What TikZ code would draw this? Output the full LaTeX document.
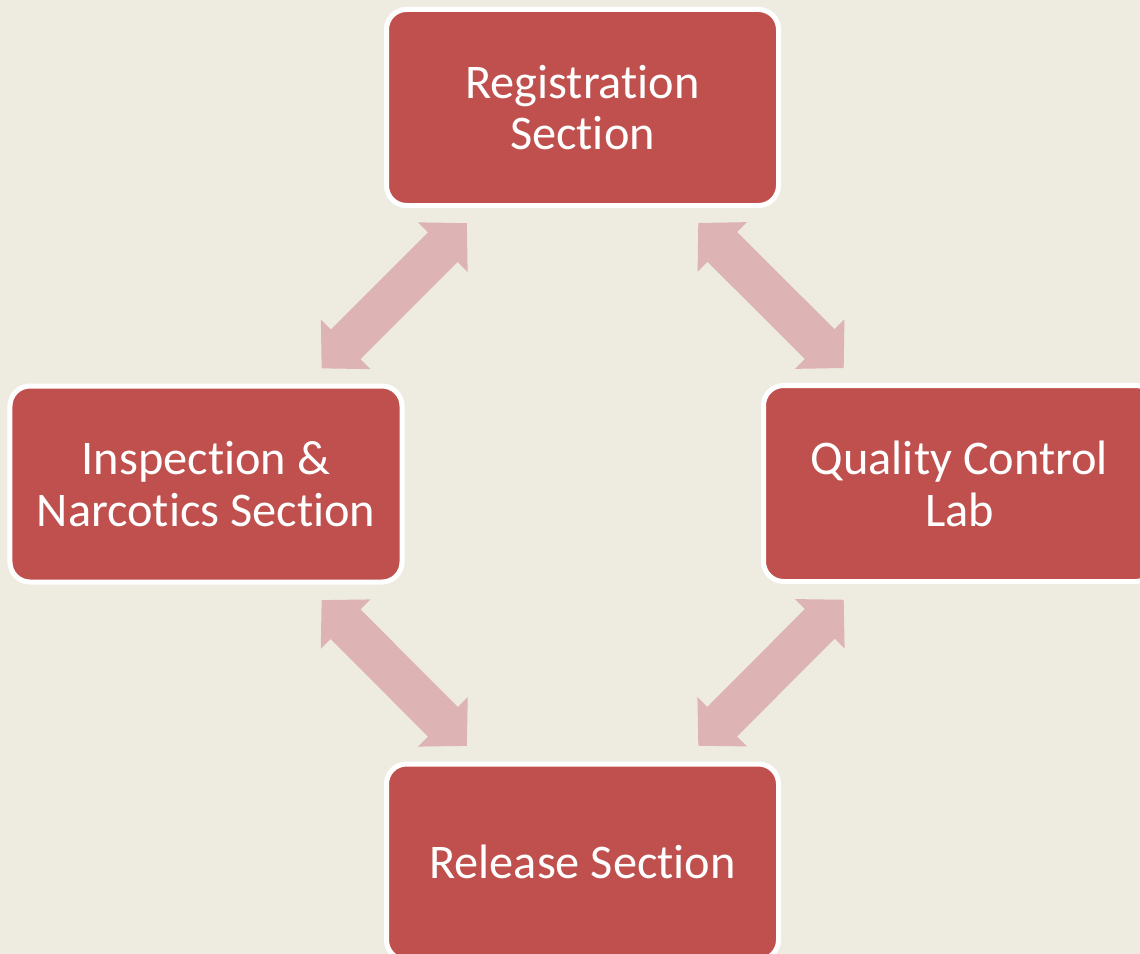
\documentclass[tikz,border=0pt]{standalone}
\usepackage{fontspec}
\setmainfont[Ligatures=CommonOff]{Carlito}
\usepackage{xcolor}
\usepackage{tikz}
\usetikzlibrary{arrows.meta,positioning,calc}
\definecolor{paper}{HTML}{EEECE1}
\definecolor{boxred}{HTML}{C0504D}
\definecolor{linkpink}{HTML}{DEB3B3}
\tikzset{
  section/.style={draw=white, line width=1mm, fill=boxred, rounded corners=4mm,
    minimum width=7.84cm, minimum height=3.92cm, inner sep=0pt,
    text=white, align=center, font=\fontsize{27.5}{29.5}\selectfont},
  linkarr/.style={draw=linkpink, line width=8.4mm,
    {Triangle[width=13.6mm,length=6.8mm]}-{Triangle[width=13.6mm,length=6.8mm]}}
}

\begin{document}
\begin{tikzpicture}
  \useasboundingbox[fill=paper] (0,0) rectangle (22.8,-19.08);

  \node[section] (reg) at (11.65,-2.15) {Registration\\Section};
  \node[section] (insp) at (4.12,-9.68) {Inspection \&\\Narcotics Section};
  \node[section] (qc) at (19.19,-9.67) {Quality Control\\Lab};
  \node[section] (rel) at (11.65,-17.24) {Release Section};

  \draw[linkarr] ($(reg)!0.307!(insp)$) -- ($(reg)!0.693!(insp)$);
  \draw[linkarr] ($(reg)!0.307!(qc)$) -- ($(reg)!0.693!(qc)$);
  \draw[linkarr] ($(insp)!0.307!(rel)$) -- ($(insp)!0.693!(rel)$);
  \draw[linkarr] ($(qc)!0.307!(rel)$) -- ($(qc)!0.693!(rel)$);
\end{tikzpicture}
\end{document}
